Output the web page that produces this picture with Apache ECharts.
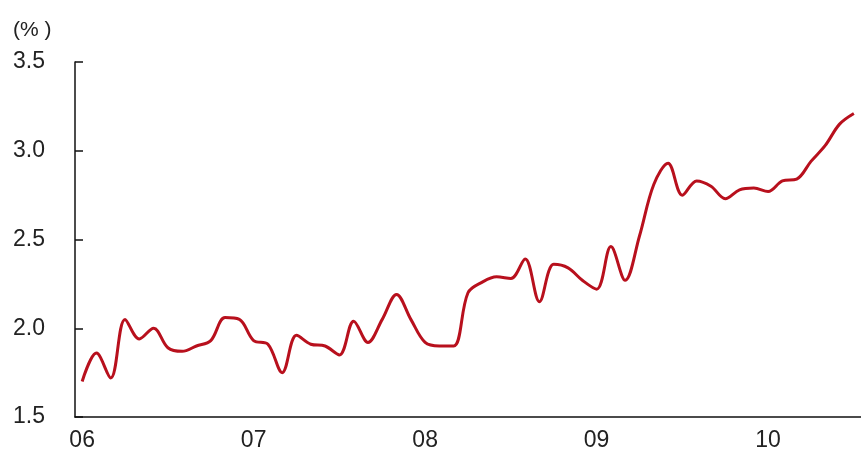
<!DOCTYPE html>
<html>
<head>
<meta charset="utf-8">
<script src="https://cdn.jsdelivr.net/npm/echarts@6/dist/echarts.min.js"></script>
<style>
html,body{margin:0;padding:0;background:#fff;}
#chart{width:861px;height:464px;}
</style>
</head>
<body>
<div id="chart"></div>
<script>
// Monthly observations, Jan 2006 – Jul 2010
const months = [];
for (let y = 2006; y <= 2010; y++) {
  for (let m = 1; m <= 12; m++) {
    if (y === 2010 && m > 7) break;
    months.push(y + '-' + String(m).padStart(2, '0'));
  }
}
const values = [
  1.70, 1.86, 1.72, 2.05, 1.94, 2.00, 1.89, 1.87, 1.90, 1.93, 2.06, 2.05,
  1.93, 1.91, 1.75, 1.96, 1.91, 1.90, 1.85, 2.04, 1.92, 2.05, 2.19, 2.05,
  1.92, 1.90, 1.90, 2.20, 2.26, 2.29, 2.28, 2.39, 2.15, 2.36, 2.34, 2.27,
  2.22, 2.46, 2.27, 2.52, 2.81, 2.93, 2.75, 2.83, 2.80, 2.73, 2.78, 2.79,
  2.77, 2.83, 2.84, 2.94, 3.03, 3.15, 3.21
];
const yTicks = [1.5, 2.0, 2.5, 3.0, 3.5];
const unitLabel = '(% )';

const chart = echarts.init(document.getElementById('chart'));
chart.setOption({
  animation: false,
  backgroundColor: '#ffffff',
  title: {
    text: unitLabel, left: 8, top: 15,
    textStyle: { fontFamily: 'Liberation Sans', fontSize: 21, fontWeight: 'normal', color: '#222' }
  },
  grid: { left: 75, right: 0, top: 62, bottom: 47 },
  xAxis: {
    type: 'category',
    data: months,
    boundaryGap: true,
    axisLine: { lineStyle: { color: '#111', width: 1.5 } },
    axisTick: { inside: true, length: 7, interval: function (i) { return i % 12 === 0; }, lineStyle: { color: '#111', width: 1.5 } },
    axisLabel: {
      interval: function (i) { return i % 12 === 0; },
      formatter: function (v) { return v.slice(2, 4); },
      margin: 12, fontFamily: 'Liberation Sans', fontSize: 23, color: '#222'
    },
    splitLine: { show: false }
  },
  yAxis: {
    type: 'value',
    min: yTicks[0], max: yTicks[yTicks.length - 1], interval: 0.5,
    axisLine: { show: true, lineStyle: { color: '#111', width: 1.5 } },
    axisTick: { show: true, inside: true, length: 8, lineStyle: { color: '#111', width: 1.5 } },
    axisLabel: {
      formatter: function (v) { return v.toFixed(1); },
      margin: 30, fontFamily: 'Liberation Sans', fontSize: 23, color: '#222',
      padding: [0, 0, 6, 0]
    },
    splitLine: { show: false }
  },
  series: [{
    type: 'line',
    data: values,
    smooth: 0.35,
    symbol: 'none',
    lineStyle: { color: '#b8101d', width: 3 }
  }]
});
</script>
</body>
</html>
